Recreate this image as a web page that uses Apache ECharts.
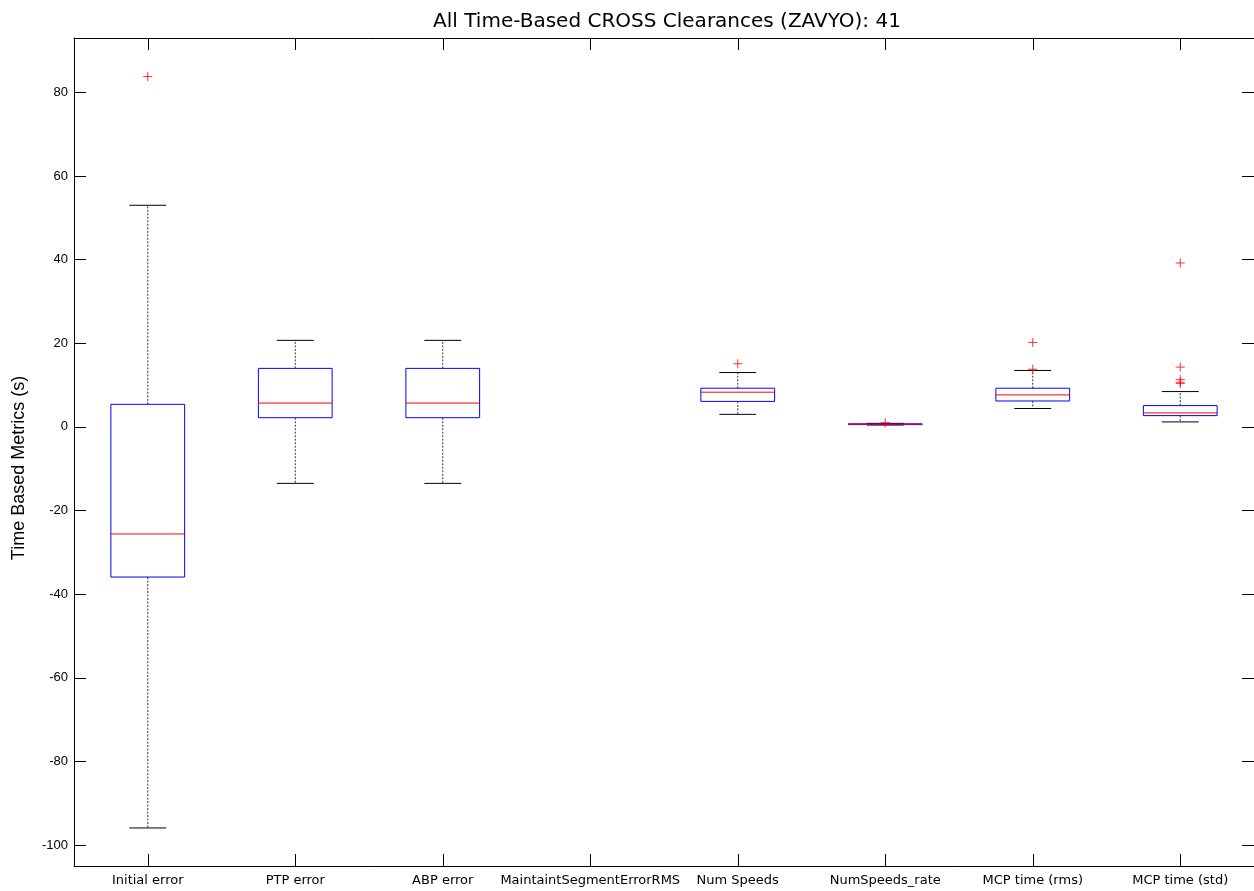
<!DOCTYPE html>
<html>
<head>
<meta charset="utf-8">
<script src="https://cdn.jsdelivr.net/npm/echarts@6/dist/echarts.min.js"></script>
<style>html,body{margin:0;padding:0;background:#fff;}#c{width:1254px;height:891px;}</style>
</head>
<body>
<div id="c"></div>
<script>
const categories = ['Initial error','PTP error','ABP error','MaintaintSegmentErrorRMS','Num Speeds','NumSpeeds_rate','MCP time (rms)','MCP time (std)'];
const lowerWhisker = [-95.9, -13.5, -13.5, null, 3.0, 0.45, 4.4, 1.2];
const q1 = [-35.9, 2.2, 2.2, null, 6.1, 0.55, 6.2, 2.7];
const median = [-25.6, 5.7, 5.7, null, 8.3, 0.65, 7.65, 3.35];
const q3 = [5.4, 14.0, 14.0, null, 9.25, 0.75, 9.25, 5.1];
const upperWhisker = [53.0, 20.7, 20.7, null, 13.0, 0.85, 13.5, 8.45];
const outlierCat = [0, 4, 5, 6, 6, 7, 7, 7, 7, 7];
const outlierVal = [83.8, 15.1, 1.0, 20.2, 13.8, 39.2, 14.3, 11.3, 10.7, 10.4];
const yTicks = [-100, -80, -60, -40, -20, 0, 20, 40, 60, 80];
const titleText = 'All Time-Based CROSS Clearances (ZAVYO): 41';
const yName = 'Time Based Metrics (s)';

const boxData = [];
categories.forEach((c, i) => {
  if (median[i] !== null) boxData.push([i, lowerWhisker[i], q1[i], median[i], q3[i], upperWhisker[i]]);
});
const outData = outlierCat.map((c, i) => [c, outlierVal[i]]);

const FONT = 'Liberation Sans, Arial, Helvetica, sans-serif';
const WIDEFONT = 'DejaVu Sans, Liberation Sans, sans-serif';
const chart = echarts.init(document.getElementById('c'), null, {renderer: 'canvas'});

function renderBox(params, api) {
  const x = api.value(0);
  const band = api.size([1, 0])[0];
  const bw = band * 0.5, cw = band * 0.25;
  const pLow = api.coord([x, api.value(1)]);
  const pQ1 = api.coord([x, api.value(2)]);
  const pMed = api.coord([x, api.value(3)]);
  const pQ3 = api.coord([x, api.value(4)]);
  const pHigh = api.coord([x, api.value(5)]);
  const cx = pMed[0];
  const dash = {stroke: '#333', lineWidth: 1, lineDash: [2, 1.5]};
  const solid = {stroke: '#000', lineWidth: 1};
  return {
    type: 'group',
    children: [
      {type: 'line', shape: {x1: cx, y1: pQ3[1], x2: cx, y2: pHigh[1]}, style: dash},
      {type: 'line', shape: {x1: cx, y1: pQ1[1], x2: cx, y2: pLow[1]}, style: dash},
      {type: 'line', shape: {x1: cx - cw / 2, y1: pHigh[1], x2: cx + cw / 2, y2: pHigh[1]}, style: solid},
      {type: 'line', shape: {x1: cx - cw / 2, y1: pLow[1], x2: cx + cw / 2, y2: pLow[1]}, style: solid},
      {type: 'rect', shape: {x: cx - bw / 2, y: pQ3[1], width: bw, height: pQ1[1] - pQ3[1]},
        style: {fill: 'none', stroke: '#0000ff', lineWidth: 1}},
      {type: 'line', shape: {x1: cx - bw / 2, y1: pMed[1], x2: cx + bw / 2, y2: pMed[1]},
        style: {stroke: '#ff0000', lineWidth: 1}}
    ]
  };
}

const axisLineStyle = {color: '#000', width: 1};
chart.setOption({
  animation: false,
  backgroundColor: '#fff',
  title: {
    text: titleText, left: 662, textAlign: 'center', top: 7,
    textStyle: {fontFamily: WIDEFONT, fontSize: 20, fontWeight: 'normal', color: '#000'}
  },
  grid: {left: 74, top: 38, right: -4, bottom: 25, containLabel: false},
  xAxis: [
    {
      type: 'category', data: categories, position: 'bottom', boundaryGap: true,
      axisLine: {show: true, onZero: false, lineStyle: axisLineStyle},
      axisTick: {show: true, inside: true, length: 12, alignWithLabel: true, interval: 0, lineStyle: axisLineStyle},
      axisLabel: {fontFamily: WIDEFONT, fontSize: 13, color: '#000', margin: 8, interval: 0},
      splitLine: {show: false}
    },
    {
      type: 'category', data: categories, position: 'top', boundaryGap: true,
      axisLine: {show: true, onZero: false, lineStyle: axisLineStyle},
      axisTick: {show: true, inside: true, length: 12, alignWithLabel: true, interval: 0, lineStyle: axisLineStyle},
      axisLabel: {show: false},
      splitLine: {show: false}
    }
  ],
  yAxis: [
    {
      type: 'value', min: -105, max: 93, position: 'left',
      name: yName, nameLocation: 'middle', nameGap: 46,
      nameTextStyle: {fontFamily: FONT, fontSize: 18, color: '#000', padding: [0, 32, 0, 0]},
      axisLine: {show: true, onZero: false, lineStyle: axisLineStyle},
      axisTick: {show: true, inside: true, length: 12, customValues: yTicks, lineStyle: axisLineStyle},
      axisLabel: {fontFamily: FONT, fontSize: 13, color: '#000', margin: 6, customValues: yTicks},
      splitLine: {show: false}
    },
    {
      type: 'value', min: -105, max: 93, position: 'right',
      axisLine: {show: true, onZero: false, lineStyle: axisLineStyle},
      axisTick: {show: true, inside: true, length: 12, customValues: yTicks, lineStyle: axisLineStyle},
      axisLabel: {show: false},
      splitLine: {show: false}
    }
  ],
  series: [
    {
      type: 'custom', xAxisIndex: 0, yAxisIndex: 0,
      renderItem: renderBox,
      encode: {x: 0, y: [1, 2, 3, 4, 5]},
      data: boxData, z: 2
    },
    {
      type: 'scatter', xAxisIndex: 0, yAxisIndex: 0,
      symbol: 'path://M0,5L10,5M5,0L5,10', symbolSize: 9,
      itemStyle: {color: 'none', borderColor: '#ff0000', borderWidth: 1},
      data: outData, z: 3
    }
  ]
});
</script>
</body>
</html>
